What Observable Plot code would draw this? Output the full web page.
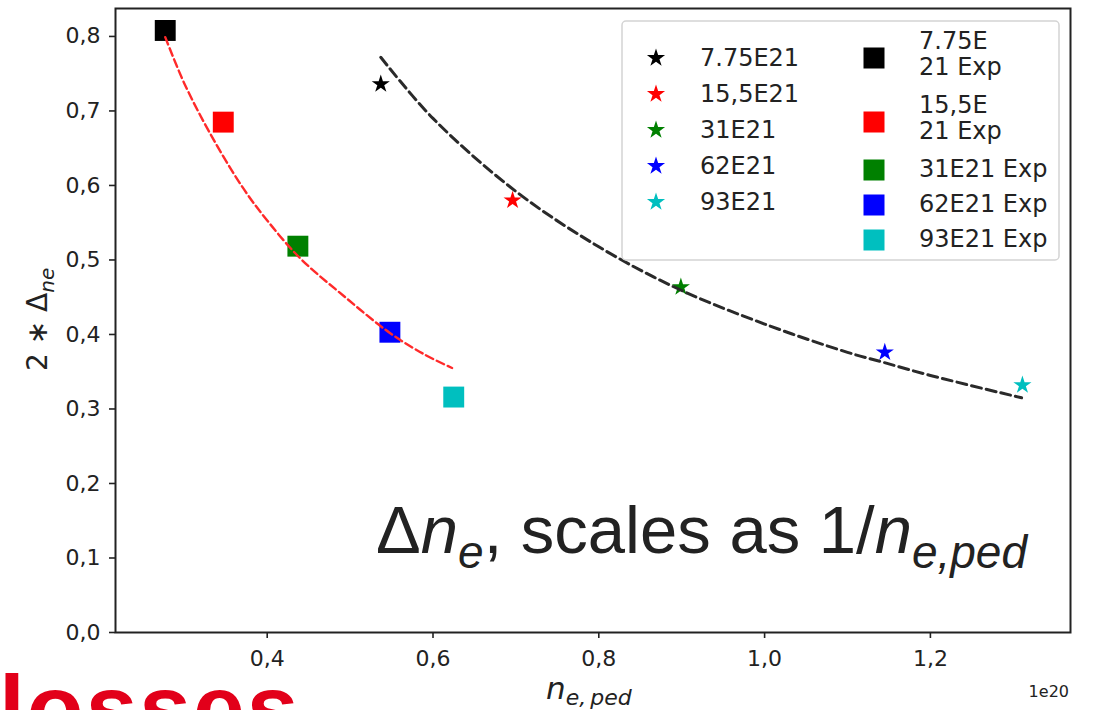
<!DOCTYPE html>
<html>
<head>
<meta charset="utf-8">
<script src="https://cdn.jsdelivr.net/npm/d3@7"></script>
<script src="https://cdn.jsdelivr.net/npm/@observablehq/plot@0.6"></script>
<style>
  html, body { margin: 0; padding: 0; background: #fff; }
  #chart svg { display: block; }
</style>
</head>
<body>
<div id="chart"></div>
<script>
// ---- data ----
const cases = ["7.75E21", "15,5E21", "31E21", "62E21", "93E21"];
const caseColors = ["#000000", "#ff0000", "#008000", "#0000ff", "#00bfbf"];
const expLabels = ["7.75E\n21 Exp", "15,5E\n21 Exp", "31E21 Exp", "62E21 Exp", "93E21 Exp"];

// simulation (stars)
const simNe = [0.537, 0.696, 0.899, 1.145, 1.311];
const simDelta = [0.736, 0.580, 0.4635, 0.376, 0.332];
// experiment (squares)
const expNe = [0.277, 0.347, 0.437, 0.548, 0.625];
const expDelta = [0.808, 0.685, 0.5185, 0.403, 0.316];

// dashed fit curves (traced)
const fitExpNe = [0.277, 0.300, 0.331, 0.370, 0.400, 0.440, 0.492, 0.548, 0.590, 0.623];
const fitExpDelta = [0.799, 0.737, 0.670, 0.598, 0.553, 0.502, 0.452, 0.402, 0.373, 0.355];
const fitSimNe = [0.537, 0.600, 0.700, 0.801, 0.898, 1.000, 1.100, 1.142, 1.200, 1.310];
const fitSimDelta = [0.772, 0.690, 0.592, 0.517, 0.460, 0.414, 0.376, 0.363, 0.345, 0.315];

const xTicks = [0.4, 0.6, 0.8, 1.0, 1.2];
const yTicks = [0.0, 0.1, 0.2, 0.3, 0.4, 0.5, 0.6, 0.7, 0.8];

// ---- tables ----
const sim = cases.map((c, i) => ({case: c, ne: simNe[i], d: simDelta[i]}));
const exp = cases.map((c, i) => ({case: c, ne: expNe[i], d: expDelta[i]}));
const fitExp = fitExpNe.map((x, i) => ({ne: x, d: fitExpDelta[i]}));
const fitSim = fitSimNe.map((x, i) => ({ne: x, d: fitSimDelta[i]}));

const comma = d => d.toFixed(1).replace(".", ",");

const plot = Plot.plot({
  width: 1094,
  height: 710,
  marginLeft: 115,
  marginRight: 24,
  marginTop: 8,
  marginBottom: 78,
  style: {fontFamily: "DejaVu Sans", fontSize: "22px", color: "#222", background: "white"},
  x: {domain: [0.217, 1.369]},
  y: {domain: [0, 0.8375]},
  color: {domain: cases, range: caseColors},
  marks: [
    Plot.axisX({ticks: xTicks, tickFormat: comma, tickSize: 6, tickPadding: 12, strokeWidth: 1.6, label: null, fontSize: 22}),
    Plot.axisY({ticks: yTicks, tickFormat: comma, tickSize: 6, tickPadding: 9, strokeWidth: 1.6, label: null, fontSize: 22}),
    Plot.dot(exp, {x: "ne", y: "d", symbol: "square", r: 11.8, fill: "case"}),
    Plot.dot(sim, {x: "ne", y: "d", symbol: "star", r: 5.7, fill: "case"}),
    Plot.line(fitExp, {x: "ne", y: "d", curve: "catmull-rom", stroke: "#ff2a2a", strokeWidth: 2.4, strokeDasharray: "8,4"}),
    Plot.line(fitSim, {x: "ne", y: "d", curve: "catmull-rom", stroke: "#2a2a2a", strokeWidth: 3, strokeDasharray: "10,5"}),
    Plot.frame({stroke: "#222", strokeWidth: 2})
  ]
});
document.getElementById("chart").appendChild(plot);

// ---- extra text and legend ----
const svg = d3.select(plot);
const extra = svg.append("g").attr("text-anchor", "start");

// legend
const lg = extra.append("g");
lg.append("rect").attr("x", 622).attr("y", 21).attr("width", 437).attr("height", 239)
  .attr("rx", 4).attr("fill", "white").attr("fill-opacity", 0.85)
  .attr("stroke", "#d4d4d4").attr("stroke-width", 1.5);
const starPath = d3.symbol(d3.symbolStar, Math.PI * 5.7 * 5.7)();
cases.forEach((c, i) => {
  const cy = 58 + 36 * i;
  lg.append("path").attr("d", starPath).attr("transform", `translate(656,${cy})`).attr("fill", caseColors[i]);
  lg.append("text").attr("x", 700).attr("y", cy + 8).attr("text-anchor", "start").attr("font-family", "DejaVu Sans")
    .attr("font-size", 24).attr("fill", "#222").text(c);
});
const sqY = [58, 122, 170, 205, 240];
expLabels.forEach((lab, i) => {
  const cy = sqY[i];
  lg.append("rect").attr("x", 874 - 10.5).attr("y", cy - 10.5).attr("width", 21).attr("height", 21).attr("fill", caseColors[i]);
  const lines = lab.split("\n");
  const t = lg.append("text").attr("text-anchor", "start").attr("font-family", "DejaVu Sans").attr("font-size", 24).attr("fill", "#222");
  if (lines.length === 2) {
    t.append("tspan").attr("x", 919).attr("y", cy - 9).text(lines[0]);
    t.append("tspan").attr("x", 919).attr("y", cy + 17).text(lines[1]);
  } else {
    t.attr("x", 919).attr("y", cy + 7).text(lab);
  }
});

// big annotation
const ann = extra.append("text").attr("x", 376).attr("y", 553).attr("text-anchor", "start")
  .attr("font-family", "Liberation Sans, Arial, sans-serif").attr("font-size", 67).attr("fill", "#222");
ann.append("tspan").text("Δ");
ann.append("tspan").attr("font-style", "italic").text("n");
ann.append("tspan").attr("font-style", "italic").attr("font-size", 46).attr("dy", 15).text("e");
ann.append("tspan").attr("dy", -15).text(", scales as 1/");
ann.append("tspan").attr("font-style", "italic").text("n");
ann.append("tspan").attr("font-style", "italic").attr("font-size", 46).attr("dy", 15).text("e,ped");

// y label
const yl = extra.append("text").attr("transform", "translate(47,371) rotate(-90)").attr("text-anchor", "start")
  .attr("font-family", "DejaVu Sans").attr("font-size", 28).attr("fill", "#222");
yl.append("tspan").text("2 ∗ Δ");
yl.append("tspan").attr("font-style", "italic").attr("font-size", 20).attr("dy", 7).text("ne");

// x label
const xl = extra.append("text").attr("x", 546).attr("y", 699).attr("text-anchor", "start")
  .attr("font-family", "DejaVu Sans").attr("font-size", 31).attr("fill", "#222");
xl.append("tspan").attr("font-style", "italic").text("n");
xl.append("tspan").attr("font-style", "italic").attr("font-size", 22).attr("dy", 6).text("e,");
xl.append("tspan").attr("font-style", "italic").attr("font-size", 22).attr("dx", 4).text("ped");

// offset text
extra.append("text").attr("x", 1069).attr("y", 697).attr("text-anchor", "end")
  .attr("font-family", "DejaVu Sans").attr("font-size", 16).attr("fill", "#222").text("1e20");

// cut-off slide word
extra.append("text").attr("x", -1).attr("y", 740).attr("text-anchor", "start")
  .attr("font-family", "Liberation Sans, Arial, sans-serif").attr("font-weight", "bold")
  .attr("letter-spacing", 2)
  .attr("font-size", 93).attr("fill", "#e2001a").text("losses");
</script>
</body>
</html>
